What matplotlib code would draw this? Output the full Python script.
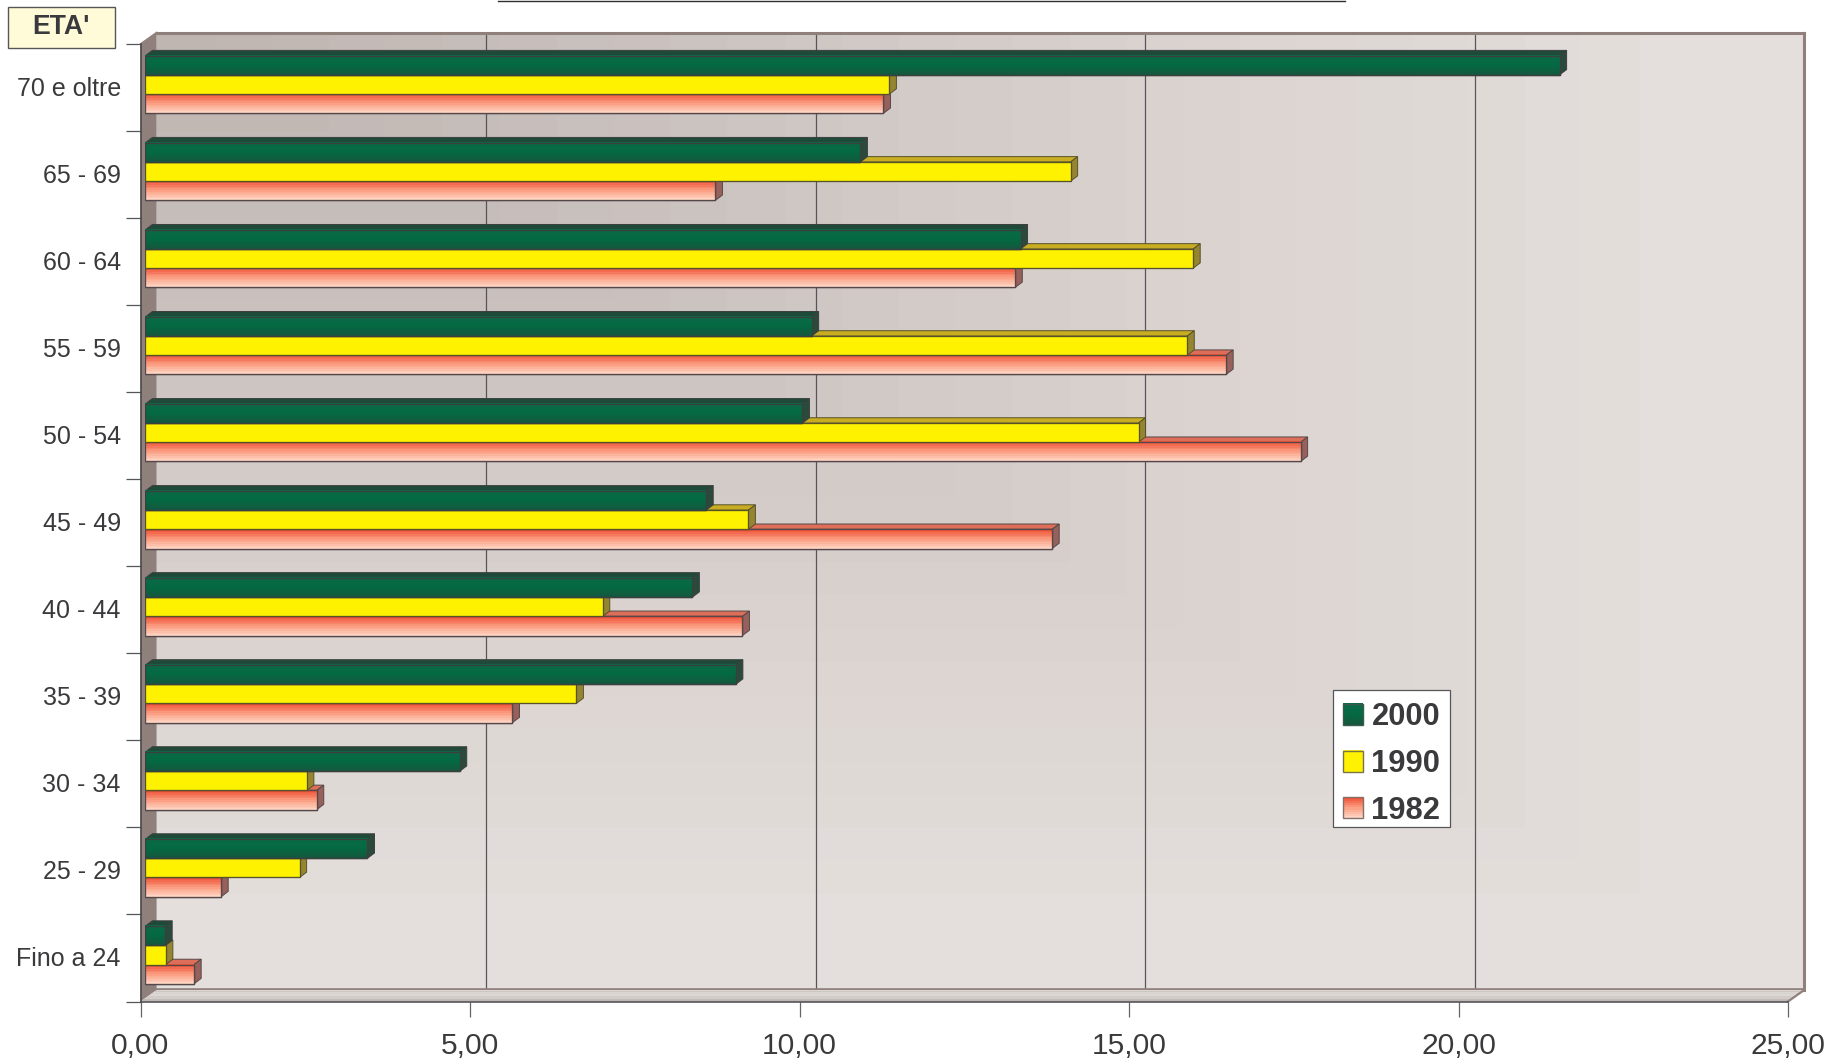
import numpy as np
import matplotlib
matplotlib.use("Agg")
import matplotlib.pyplot as plt
from matplotlib.colors import LinearSegmentedColormap
from matplotlib.legend_handler import HandlerBase
from matplotlib.lines import Line2D
from matplotlib.patches import Patch, Polygon, Rectangle
from matplotlib.transforms import ScaledTranslation

plt.rcParams["font.family"] = ["Liberation Sans", "DejaVu Sans"]

# ---- data ----
categories = ["Fino a 24", "25 - 29", "30 - 34", "35 - 39", "40 - 44", "45 - 49",
              "50 - 54", "55 - 59", "60 - 64", "65 - 69", "70 e oltre"]
values_2000 = [0.30, 3.37, 4.77, 8.96, 8.30, 8.51, 9.97, 10.11, 13.28, 10.85, 21.46]
values_1990 = [0.31, 2.34, 2.45, 6.54, 6.94, 9.15, 15.07, 15.81, 15.90, 14.04, 11.29]
values_1982 = [0.74, 1.15, 2.60, 5.57, 9.06, 13.76, 17.53, 16.40, 13.20, 8.65, 11.20]
x_ticks = [0, 5, 10, 15, 20, 25]
x_labels = ["0,00", "5,00", "10,00", "15,00", "20,00", "25,00"]
y_title = "ETA'"

# ---- layout (pixels) ----
W, H = 1832, 1062
DPI = 100
FX0, FX1, FY0, FY1 = 140.5, 1788, 44, 1001.5   # front plane
WALL_DX, WALL_DY = 16.2, 11.5                   # depth of the wall
BAR_SHIFT = 4.9                                 # bars sit behind the front plane
BAR_DX, BAR_DY = 7, 5.3                         # depth of a bar
TXT = "#3a3a3d"
WALL = "#8f807c"
LINE = "#45454a"

fig = plt.figure(figsize=(W / DPI, H / DPI), dpi=DPI, facecolor="white")


def add_axes(x0, x1, ytop, ybot, z):
    a = fig.add_axes([x0 / W, 1 - ybot / H, (x1 - x0) / W, (ybot - ytop) / H], zorder=z)
    a.set_xlim(0, 25)
    a.set_ylim(0, 11)
    a.patch.set_visible(False)
    return a


# ---- back wall ----
back = add_axes(FX0 + WALL_DX, FX1 + WALL_DX, FY0 - WALL_DY, FY1 - WALL_DY, 1)
back.set_xticks([])
back.set_yticks([])
gx, gy = np.meshgrid(np.linspace(0, 1, 700), np.linspace(0, 1, 420))
t = np.clip(np.maximum(gx, gy) / 0.9, 0, 1)
t = np.floor(t * 26) / 26
wall_cmap = LinearSegmentedColormap.from_list(
    "wall", ["#bfb5b1", "#cbc3c0", "#dbd3d0", "#e4dfdc"])
back.imshow(t, cmap=wall_cmap, vmin=0, vmax=1, extent=(0, 25, 0, 11),
            origin="upper", aspect="auto", zorder=0, interpolation="nearest")
back.set_xlim(0, 25)
back.set_ylim(0, 11)
for xv in x_ticks[1:-1]:
    back.axvline(xv, color="#55555a", lw=0.9, zorder=1)
back.spines["left"].set_visible(False)
for sp, lw in (("top", 2.2), ("right", 2.2), ("bottom", 2.6)):
    back.spines[sp].set_color(WALL)
    back.spines[sp].set_linewidth(lw)

# ---- front plane: axes, side wall, floor ----
ax = add_axes(FX0, FX1, FY0, FY1, 2)
ux = 25 / (FX1 - FX0)
uy = 11 / (FY1 - FY0)
wx, wy = WALL_DX * ux, WALL_DY * uy
ax.add_patch(Polygon([(0, 0), (wx, wy), (wx, 11 + wy), (0, 11)], closed=True,
                     facecolor=WALL, edgecolor="none", clip_on=False, zorder=1))
n_floor = 8
floor_cols = LinearSegmentedColormap.from_list("floor", ["#dcd7d4", "#d2ccc8", "#b4aaa6"])
for k in range(n_floor):
    a0, a1 = k / n_floor, (k + 1) / n_floor
    y_hi, y_lo = wy * (1 - a0), wy * (1 - a1)
    ax.add_patch(Polygon([(wx * (1 - a0), y_hi), (25 + wx * (1 - a0), y_hi),
                          (25 + wx * (1 - a1), y_lo), (wx * (1 - a1), y_lo)], closed=True,
                         facecolor=floor_cols(a0), edgecolor="none", clip_on=False, zorder=1))
ax.plot([25, 25 + wx], [0, wy], color=WALL, lw=1.6, clip_on=False, zorder=2)
ax.plot([0, wx], [11, 11 + wy], color=WALL, lw=1.2, clip_on=False, zorder=2)

for sp in ("top", "right"):
    ax.spines[sp].set_visible(False)
for sp in ("left", "bottom"):
    ax.spines[sp].set_color(LINE)
    ax.spines[sp].set_linewidth(1.1)
ax.set_xticks(x_ticks)
ax.set_xticklabels(x_labels, fontsize=21.6, color=TXT)
ax.set_yticks(np.arange(0, 12))
ax.set_yticks(np.arange(len(categories)) + 0.5, minor=True)
ax.set_yticklabels([])
ax.set_yticklabels(categories, minor=True, fontsize=18, color=TXT)
ax.tick_params(axis="x", length=10.8, width=0.9, color="#66666a", pad=11)
ax.tick_params(axis="y", which="major", length=10.8, width=0.9, color="#55555a")
ax.tick_params(axis="y", which="minor", length=0, pad=14.2)
nudge = ScaledTranslation(0, -1.0 / DPI, fig.dpi_scale_trans)
for lab in ax.get_yticklabels(minor=True):
    lab.set_verticalalignment("center")
    lab.set_transform(lab.get_transform() + nudge)

# ---- bars ----
bars = add_axes(FX0 + BAR_SHIFT, FX1 + BAR_SHIFT, FY0, FY1, 3)
bars.axis("off")
bx, by = BAR_DX * ux, BAR_DY * uy
bar_h = 19.2 * uy
centre = np.arange(len(categories)) + 0.5 + 0.035

green_cmap = LinearSegmentedColormap.from_list("g", ["#0b6b48", "#046a42", "#14593f"])
red_cmap = LinearSegmentedColormap.from_list("r", ["#ef5136", "#fb9c80", "#ffd3c1"])

series = [
    ("1982", values_1982, centre - bar_h, "#f2694f", red_cmap, "#dd6f58", "#97605a", "#55484a"),
    ("1990", values_1990, centre, "#fff200", None, "#c8ac22", "#968530", "#56522a"),
    ("2000", values_2000, centre + bar_h, "#056a45", green_cmap, "#1f4a3a", "#2a4a3c", "#3b3f3e"),
]
for lvl, (name, vals, ys, col, cmap, top_c, side_c, edge_c) in enumerate(series):
    z = 10 + lvl * 5
    bars.barh(ys, vals, height=bar_h, color=col, edgecolor=edge_c, linewidth=0.95, zorder=z)
    for v, y in zip(vals, ys):
        y0, y1 = y - bar_h / 2, y + bar_h / 2
        bars.add_patch(Polygon([(0, y1), (bx, y1 + by), (v + bx, y1 + by), (v, y1)],
                               closed=True, facecolor=top_c, edgecolor=edge_c, lw=0.7,
                               clip_on=False, zorder=z - 1))
        bars.add_patch(Polygon([(v, y0), (v + bx, y0 + by), (v + bx, y1 + by), (v, y1)],
                               closed=True, facecolor=side_c, edgecolor=edge_c, lw=0.7,
                               clip_on=False, zorder=z - 1))
        if cmap is not None:
            grad = np.floor(np.linspace(0, 1, 12) * 11)[:, None] / 11
            bars.imshow(grad, cmap=cmap, vmin=0, vmax=1, extent=(0, v, y0, y1),
                        origin="upper", aspect="auto", zorder=z + 0.5, interpolation="nearest")
            bars.add_patch(Rectangle((0, y0), v, bar_h, facecolor="none", edgecolor=edge_c,
                                     lw=0.95, zorder=z + 1))
bars.set_xlim(0, 25)
bars.set_ylim(0, 11)


# ---- legend ----
class Swatch(HandlerBase):
    def __init__(self, cmap, edge):
        super().__init__()
        self.cmap, self.edge = cmap, edge

    def create_artists(self, legend, orig, xd, yd, width, height, fontsize, trans):
        arts = []
        n = 10
        for k in range(n):
            arts.append(Rectangle((-xd, -yd + height * (1 - (k + 1) / n)), width, height / n + 0.3,
                                  facecolor=self.cmap(k / (n - 1)), edgecolor="none",
                                  transform=trans))
        arts.append(Rectangle((-xd, -yd), width, height, facecolor="none",
                              edgecolor=self.edge, lw=1.0, transform=trans))
        return arts


yellow_cmap = LinearSegmentedColormap.from_list("y", ["#fff200", "#fff200"])
fig.add_artist(Rectangle((1333 / W, 1 - 827 / H), 117 / W, 137 / H, transform=fig.transFigure,
                         facecolor="white", edgecolor="#55555a", lw=0.9, zorder=19))
h2000, h1990, h1982 = Patch(label="2000"), Patch(label="1990"), Patch(label="1982")
leg = fig.legend(
    handles=[h2000, h1990, h1982], loc="upper left",
    bbox_to_anchor=(1333.5 / W, 1 - 692.8 / H), bbox_transform=fig.transFigure,
    prop={"weight": "bold", "size": 22.2}, labelcolor=TXT,
    frameon=False,
    handlelength=0.67, handleheight=0.67, handletextpad=0.26, labelspacing=0.545,
    borderpad=0.3, borderaxespad=0,
    handler_map={h2000: Swatch(green_cmap, "#3b5a4c"),
                 h1990: Swatch(yellow_cmap, "#77744a"),
                 h1982: Swatch(red_cmap, "#86706c")})
leg.set_zorder(20)

# ---- axis title box and cut-off rule above the plot ----
fig.add_artist(Rectangle((8 / W, 1 - 47.5 / H), 106.5 / W, 40.5 / H, transform=fig.transFigure,
                         facecolor="#fffbd9", edgecolor="#55555a", lw=1.0, zorder=20))
fig.text(61 / W, 1 - 27.5 / H, y_title, fontsize=19.2, fontweight="bold", color=TXT,
         ha="center", va="center", zorder=21)
fig.add_artist(Line2D([498 / W, 1345 / W], [1 - 0.6 / H, 1 - 0.6 / H], color="#2f2f33", lw=1.0))

fig.savefig("out.png", dpi=DPI, facecolor="white")
